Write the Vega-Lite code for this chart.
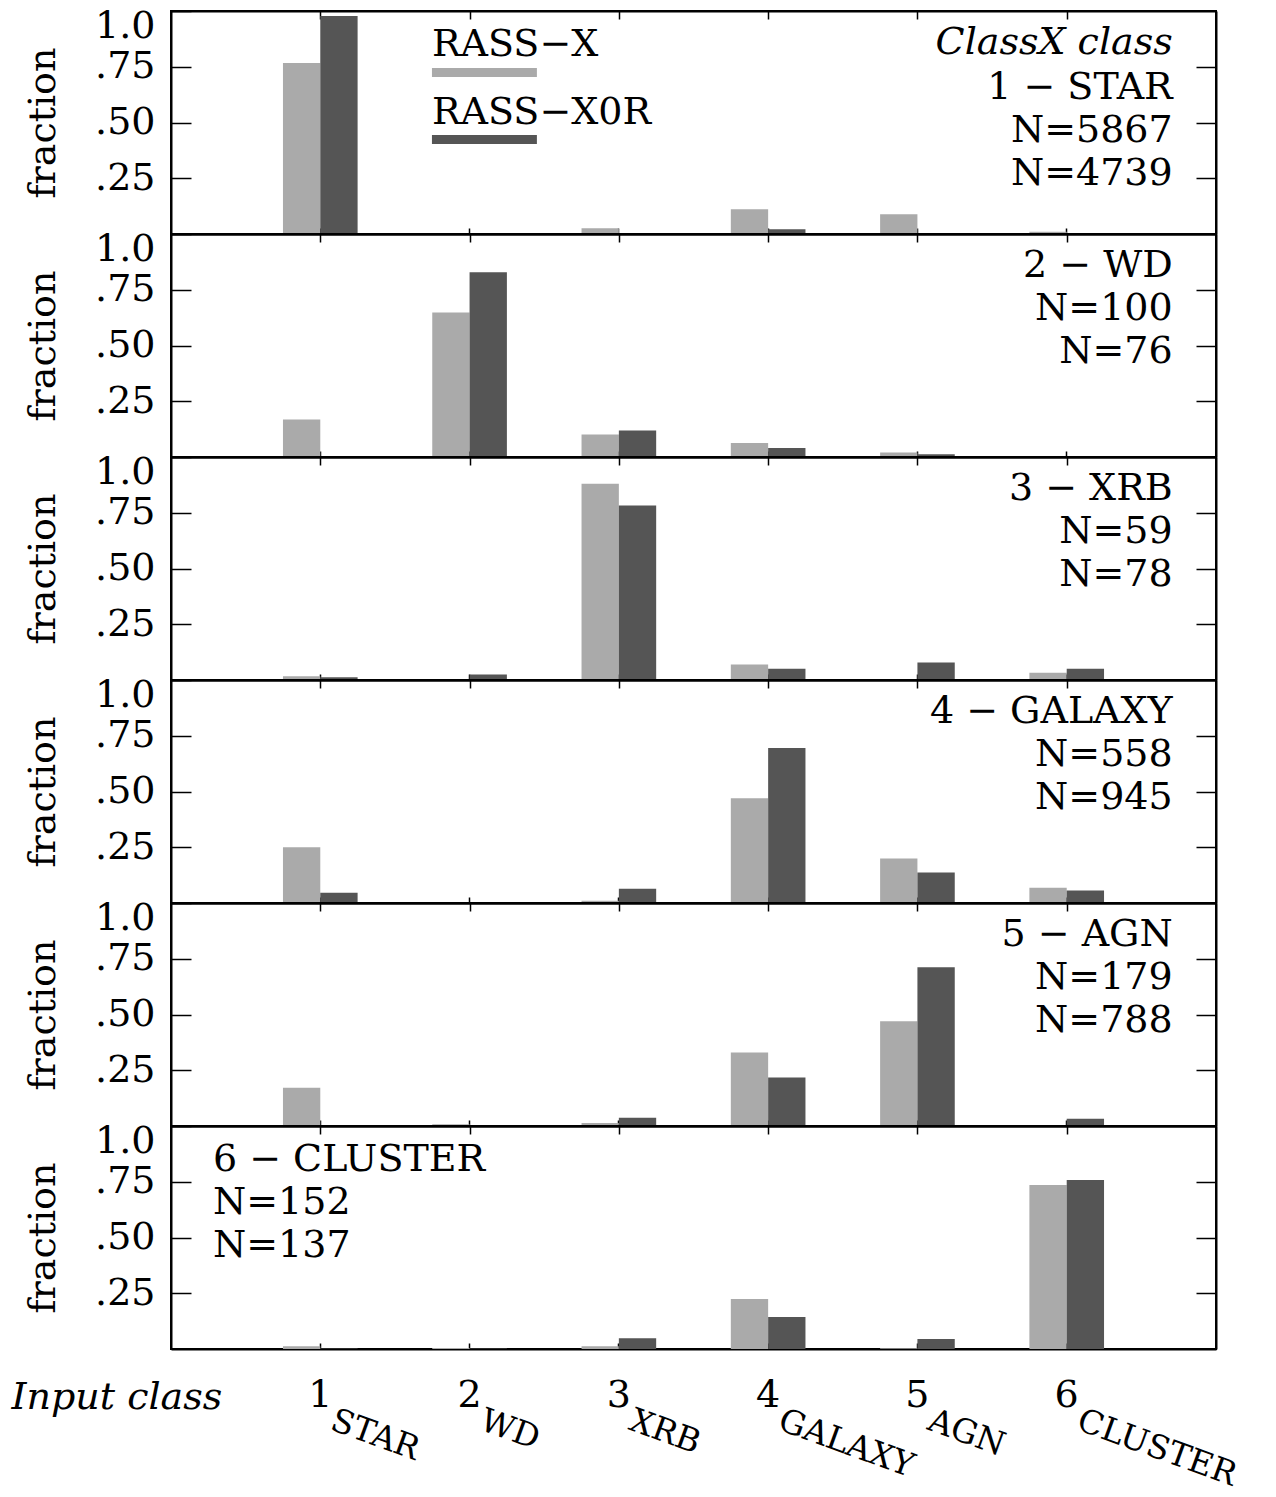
{
  "$schema": "https://vega.github.io/schema/vega-lite/v6.json",
  "padding": {"left": 10, "top": 6, "right": 5, "bottom": 0},
  "background": "white",
  "datasets": {
    "bars": [
      {"panel": 1, "input": 1, "series": "RASS−X", "fraction": 0.767},
      {"panel": 1, "input": 1, "series": "RASS−X0R", "fraction": 0.978},
      {"panel": 1, "input": 3, "series": "RASS−X", "fraction": 0.026},
      {"panel": 1, "input": 4, "series": "RASS−X", "fraction": 0.111},
      {"panel": 1, "input": 4, "series": "RASS−X0R", "fraction": 0.021},
      {"panel": 1, "input": 5, "series": "RASS−X", "fraction": 0.089},
      {"panel": 1, "input": 6, "series": "RASS−X", "fraction": 0.01},
      {"panel": 2, "input": 1, "series": "RASS−X", "fraction": 0.168},
      {"panel": 2, "input": 2, "series": "RASS−X", "fraction": 0.648},
      {"panel": 2, "input": 2, "series": "RASS−X0R", "fraction": 0.829},
      {"panel": 2, "input": 3, "series": "RASS−X", "fraction": 0.101},
      {"panel": 2, "input": 3, "series": "RASS−X0R", "fraction": 0.119},
      {"panel": 2, "input": 4, "series": "RASS−X", "fraction": 0.063},
      {"panel": 2, "input": 4, "series": "RASS−X0R", "fraction": 0.04},
      {"panel": 2, "input": 5, "series": "RASS−X", "fraction": 0.02},
      {"panel": 2, "input": 5, "series": "RASS−X0R", "fraction": 0.012},
      {"panel": 3, "input": 1, "series": "RASS−X", "fraction": 0.017},
      {"panel": 3, "input": 1, "series": "RASS−X0R", "fraction": 0.012},
      {"panel": 3, "input": 2, "series": "RASS−X0R", "fraction": 0.025},
      {"panel": 3, "input": 3, "series": "RASS−X", "fraction": 0.88},
      {"panel": 3, "input": 3, "series": "RASS−X0R", "fraction": 0.783},
      {"panel": 3, "input": 4, "series": "RASS−X", "fraction": 0.07},
      {"panel": 3, "input": 4, "series": "RASS−X0R", "fraction": 0.051},
      {"panel": 3, "input": 5, "series": "RASS−X0R", "fraction": 0.078},
      {"panel": 3, "input": 6, "series": "RASS−X", "fraction": 0.033},
      {"panel": 3, "input": 6, "series": "RASS−X0R", "fraction": 0.051},
      {"panel": 4, "input": 1, "series": "RASS−X", "fraction": 0.25},
      {"panel": 4, "input": 1, "series": "RASS−X0R", "fraction": 0.046},
      {"panel": 4, "input": 3, "series": "RASS−X", "fraction": 0.01},
      {"panel": 4, "input": 3, "series": "RASS−X0R", "fraction": 0.064},
      {"panel": 4, "input": 4, "series": "RASS−X", "fraction": 0.47},
      {"panel": 4, "input": 4, "series": "RASS−X0R", "fraction": 0.695},
      {"panel": 4, "input": 5, "series": "RASS−X", "fraction": 0.2},
      {"panel": 4, "input": 5, "series": "RASS−X0R", "fraction": 0.137},
      {"panel": 4, "input": 6, "series": "RASS−X", "fraction": 0.068},
      {"panel": 4, "input": 6, "series": "RASS−X0R", "fraction": 0.056},
      {"panel": 5, "input": 1, "series": "RASS−X", "fraction": 0.172},
      {"panel": 5, "input": 2, "series": "RASS−X", "fraction": 0.008},
      {"panel": 5, "input": 3, "series": "RASS−X", "fraction": 0.013},
      {"panel": 5, "input": 3, "series": "RASS−X0R", "fraction": 0.037},
      {"panel": 5, "input": 4, "series": "RASS−X", "fraction": 0.33},
      {"panel": 5, "input": 4, "series": "RASS−X0R", "fraction": 0.218},
      {"panel": 5, "input": 5, "series": "RASS−X", "fraction": 0.47},
      {"panel": 5, "input": 5, "series": "RASS−X0R", "fraction": 0.712},
      {"panel": 5, "input": 6, "series": "RASS−X0R", "fraction": 0.032},
      {"panel": 6, "input": 1, "series": "RASS−X", "fraction": 0.012},
      {"panel": 6, "input": 1, "series": "RASS−X0R", "fraction": 0.002},
      {"panel": 6, "input": 2, "series": "RASS−X", "fraction": 0.004},
      {"panel": 6, "input": 2, "series": "RASS−X0R", "fraction": 0.002},
      {"panel": 6, "input": 3, "series": "RASS−X", "fraction": 0.012},
      {"panel": 6, "input": 3, "series": "RASS−X0R", "fraction": 0.048},
      {"panel": 6, "input": 4, "series": "RASS−X", "fraction": 0.224},
      {"panel": 6, "input": 4, "series": "RASS−X0R", "fraction": 0.143},
      {"panel": 6, "input": 5, "series": "RASS−X", "fraction": 0.003},
      {"panel": 6, "input": 5, "series": "RASS−X0R", "fraction": 0.045},
      {"panel": 6, "input": 6, "series": "RASS−X", "fraction": 0.735},
      {"panel": 6, "input": 6, "series": "RASS−X0R", "fraction": 0.758}
    ],
    "notes": [
      {"panel": 1, "head": "ClassX class", "body": "1 − STAR\nN=5867\nN=4739"},
      {"panel": 2, "body": "2 − WD\nN=100\nN=76"},
      {"panel": 3, "body": "3 − XRB\nN=59\nN=78"},
      {"panel": 4, "body": "4 − GALAXY\nN=558\nN=945"},
      {"panel": 5, "body": "5 − AGN\nN=179\nN=788"},
      {"panel": 6, "body": "6 − CLUSTER\nN=152\nN=137"}
    ],
    "classes": [
      {"input": 1, "name": "STAR"},
      {"input": 2, "name": "WD"},
      {"input": 3, "name": "XRB"},
      {"input": 4, "name": "GALAXY"},
      {"input": 5, "name": "AGN"},
      {"input": 6, "name": "CLUSTER"}
    ],
    "legend": [
      {"series": "RASS−X"},
      {"series": "RASS−X0R"}
    ]
  },
  "spacing": 0,
  "bounds": "flush",
  "vconcat": [
    {
      "width": 1045, "height": 223,
      "layer": [
        {
          "data": {"name": "bars"},
          "transform": [{"filter": "datum.panel == 1"}],
          "mark": {"type": "bar"},
          "encoding": {
            "x": {"field": "input", "type": "ordinal", "scale": {"domain": [1, 2, 3, 4, 5, 6], "paddingInner": 0, "paddingOuter": 0.5}, "axis": {"orient": "bottom", "labels": false, "title": null, "tickSize": -6}},
            "xOffset": {"field": "series", "type": "nominal", "scale": {"domain": ["RASS−X", "RASS−X0R"], "paddingInner": 0, "paddingOuter": 1.87}},
            "y": {"field": "fraction", "type": "quantitative", "scale": {"domain": [0, 1], "nice": false}, "axis": {"orient": "left", "values": [0.25, 0.5, 0.75, 1], "labelExpr": "datum.value == 1 ? '1.0' : replace(format(datum.value, '.2f'), '0.', '.')", "labelBaseline": {"condition": {"test": "datum.value == 1", "value": "top"}, "value": "middle"}, "labelOffset": {"condition": {"test": "datum.value == 1", "value": -4}, "value": 0}, "labelOverlap": false, "labelBound": false, "tickSize": -20, "labelPadding": 36, "title": "fraction", "titlePadding": 32}},
            "color": {"field": "series", "type": "nominal", "scale": {"domain": ["RASS−X", "RASS−X0R"], "range": ["#aaaaaa", "#555555"]}, "legend": null}
          }
        },
        {
          "data": {"name": "notes"},
          "transform": [{"filter": "datum.panel == 1"}],
          "mark": {"type": "text", "align": "right", "baseline": "alphabetic", "lineBreak": "\n", "lineHeight": 43},
          "encoding": {
            "x": {"datum": 6.71, "type": "quantitative", "scale": {"domain": [0, 7], "nice": false, "zero": false}, "axis": {"orient": "top", "values": [1, 2, 3, 4, 5, 6], "labels": false, "title": null, "tickSize": -8}},
            "y": {"datum": 0.605, "type": "quantitative", "scale": {"domain": [0, 1], "nice": false}, "axis": {"orient": "right", "values": [0.25, 0.5, 0.75], "labels": false, "title": null, "tickSize": -20}},
            "text": {"field": "body", "type": "nominal"}
          }
        },
        {
          "data": {"name": "notes"},
          "transform": [{"filter": "datum.panel == 1"}],
          "mark": {"type": "text", "align": "right", "baseline": "alphabetic", "fontStyle": "italic"},
          "encoding": {
            "x": {"datum": 6.71, "type": "quantitative", "scale": {"domain": [0, 7], "nice": false, "zero": false}, "axis": null},
            "y": {"datum": 0.807, "type": "quantitative", "scale": {"domain": [0, 1], "nice": false}, "axis": null},
            "text": {"field": "head", "type": "nominal"}
          }
        },
        {
          "data": {"name": "legend"},
          "transform": [{"filter": "datum.series == 'RASS−X'"}],
          "mark": {"type": "rule", "strokeWidth": 9, "strokeCap": "butt"},
          "encoding": {
            "x": {"datum": 1.748, "type": "quantitative", "scale": {"domain": [0, 7], "nice": false, "zero": false}, "axis": null},
            "x2": {"datum": 2.451},
            "y": {"datum": 0.724, "type": "quantitative", "scale": {"domain": [0, 1], "nice": false}, "axis": null},
            "color": {"field": "series", "type": "nominal", "legend": null}
          }
        },
        {
          "data": {"name": "legend"},
          "transform": [{"filter": "datum.series == 'RASS−X0R'"}],
          "mark": {"type": "rule", "strokeWidth": 9, "strokeCap": "butt"},
          "encoding": {
            "x": {"datum": 1.748, "type": "quantitative", "scale": {"domain": [0, 7], "nice": false, "zero": false}, "axis": null},
            "x2": {"datum": 2.451},
            "y": {"datum": 0.424, "type": "quantitative", "scale": {"domain": [0, 1], "nice": false}, "axis": null},
            "color": {"field": "series", "type": "nominal", "legend": null}
          }
        },
        {
          "data": {"name": "legend"},
          "transform": [{"filter": "datum.series == 'RASS−X'"}],
          "mark": {"type": "text", "align": "left", "baseline": "alphabetic"},
          "encoding": {
            "x": {"datum": 1.748, "type": "quantitative", "scale": {"domain": [0, 7], "nice": false, "zero": false}, "axis": null},
            "y": {"datum": 0.798, "type": "quantitative", "scale": {"domain": [0, 1], "nice": false}, "axis": null},
            "text": {"field": "series", "type": "nominal"}
          }
        },
        {
          "data": {"name": "legend"},
          "transform": [{"filter": "datum.series == 'RASS−X0R'"}],
          "mark": {"type": "text", "align": "left", "baseline": "alphabetic"},
          "encoding": {
            "x": {"datum": 1.748, "type": "quantitative", "scale": {"domain": [0, 7], "nice": false, "zero": false}, "axis": null},
            "y": {"datum": 0.493, "type": "quantitative", "scale": {"domain": [0, 1], "nice": false}, "axis": null},
            "text": {"field": "series", "type": "nominal"}
          }
        }
      ],
      "resolve": {"scale": {"x": "independent"}, "axis": {"x": "independent", "y": "independent"}}
    },
    {
      "width": 1045, "height": 223,
      "layer": [
        {
          "data": {"name": "bars"},
          "transform": [{"filter": "datum.panel == 2"}],
          "mark": {"type": "bar"},
          "encoding": {
            "x": {"field": "input", "type": "ordinal", "scale": {"domain": [1, 2, 3, 4, 5, 6], "paddingInner": 0, "paddingOuter": 0.5}, "axis": {"orient": "bottom", "labels": false, "title": null, "tickSize": -6}},
            "xOffset": {"field": "series", "type": "nominal", "scale": {"domain": ["RASS−X", "RASS−X0R"], "paddingInner": 0, "paddingOuter": 1.87}},
            "y": {"field": "fraction", "type": "quantitative", "scale": {"domain": [0, 1], "nice": false}, "axis": {"orient": "left", "values": [0.25, 0.5, 0.75, 1], "labelExpr": "datum.value == 1 ? '1.0' : replace(format(datum.value, '.2f'), '0.', '.')", "labelBaseline": {"condition": {"test": "datum.value == 1", "value": "top"}, "value": "middle"}, "labelOffset": {"condition": {"test": "datum.value == 1", "value": -4}, "value": 0}, "labelOverlap": false, "labelBound": false, "tickSize": -20, "labelPadding": 36, "title": "fraction", "titlePadding": 32}},
            "color": {"field": "series", "type": "nominal", "scale": {"domain": ["RASS−X", "RASS−X0R"], "range": ["#aaaaaa", "#555555"]}, "legend": null}
          }
        },
        {
          "data": {"name": "notes"},
          "transform": [{"filter": "datum.panel == 2"}],
          "mark": {"type": "text", "align": "right", "baseline": "alphabetic", "lineBreak": "\n", "lineHeight": 43},
          "encoding": {
            "x": {"datum": 6.71, "type": "quantitative", "scale": {"domain": [0, 7], "nice": false, "zero": false}, "axis": {"orient": "top", "values": [1, 2, 3, 4, 5, 6], "labels": false, "title": null, "tickSize": -8}},
            "y": {"datum": 0.807, "type": "quantitative", "scale": {"domain": [0, 1], "nice": false}, "axis": {"orient": "right", "values": [0.25, 0.5, 0.75], "labels": false, "title": null, "tickSize": -20}},
            "text": {"field": "body", "type": "nominal"}
          }
        }
      ],
      "resolve": {"scale": {"x": "independent"}, "axis": {"x": "independent", "y": "independent"}}
    },
    {
      "width": 1045, "height": 223,
      "layer": [
        {
          "data": {"name": "bars"},
          "transform": [{"filter": "datum.panel == 3"}],
          "mark": {"type": "bar"},
          "encoding": {
            "x": {"field": "input", "type": "ordinal", "scale": {"domain": [1, 2, 3, 4, 5, 6], "paddingInner": 0, "paddingOuter": 0.5}, "axis": {"orient": "bottom", "labels": false, "title": null, "tickSize": -6}},
            "xOffset": {"field": "series", "type": "nominal", "scale": {"domain": ["RASS−X", "RASS−X0R"], "paddingInner": 0, "paddingOuter": 1.87}},
            "y": {"field": "fraction", "type": "quantitative", "scale": {"domain": [0, 1], "nice": false}, "axis": {"orient": "left", "values": [0.25, 0.5, 0.75, 1], "labelExpr": "datum.value == 1 ? '1.0' : replace(format(datum.value, '.2f'), '0.', '.')", "labelBaseline": {"condition": {"test": "datum.value == 1", "value": "top"}, "value": "middle"}, "labelOffset": {"condition": {"test": "datum.value == 1", "value": -4}, "value": 0}, "labelOverlap": false, "labelBound": false, "tickSize": -20, "labelPadding": 36, "title": "fraction", "titlePadding": 32}},
            "color": {"field": "series", "type": "nominal", "scale": {"domain": ["RASS−X", "RASS−X0R"], "range": ["#aaaaaa", "#555555"]}, "legend": null}
          }
        },
        {
          "data": {"name": "notes"},
          "transform": [{"filter": "datum.panel == 3"}],
          "mark": {"type": "text", "align": "right", "baseline": "alphabetic", "lineBreak": "\n", "lineHeight": 43},
          "encoding": {
            "x": {"datum": 6.71, "type": "quantitative", "scale": {"domain": [0, 7], "nice": false, "zero": false}, "axis": {"orient": "top", "values": [1, 2, 3, 4, 5, 6], "labels": false, "title": null, "tickSize": -8}},
            "y": {"datum": 0.807, "type": "quantitative", "scale": {"domain": [0, 1], "nice": false}, "axis": {"orient": "right", "values": [0.25, 0.5, 0.75], "labels": false, "title": null, "tickSize": -20}},
            "text": {"field": "body", "type": "nominal"}
          }
        }
      ],
      "resolve": {"scale": {"x": "independent"}, "axis": {"x": "independent", "y": "independent"}}
    },
    {
      "width": 1045, "height": 223,
      "layer": [
        {
          "data": {"name": "bars"},
          "transform": [{"filter": "datum.panel == 4"}],
          "mark": {"type": "bar"},
          "encoding": {
            "x": {"field": "input", "type": "ordinal", "scale": {"domain": [1, 2, 3, 4, 5, 6], "paddingInner": 0, "paddingOuter": 0.5}, "axis": {"orient": "bottom", "labels": false, "title": null, "tickSize": -6}},
            "xOffset": {"field": "series", "type": "nominal", "scale": {"domain": ["RASS−X", "RASS−X0R"], "paddingInner": 0, "paddingOuter": 1.87}},
            "y": {"field": "fraction", "type": "quantitative", "scale": {"domain": [0, 1], "nice": false}, "axis": {"orient": "left", "values": [0.25, 0.5, 0.75, 1], "labelExpr": "datum.value == 1 ? '1.0' : replace(format(datum.value, '.2f'), '0.', '.')", "labelBaseline": {"condition": {"test": "datum.value == 1", "value": "top"}, "value": "middle"}, "labelOffset": {"condition": {"test": "datum.value == 1", "value": -4}, "value": 0}, "labelOverlap": false, "labelBound": false, "tickSize": -20, "labelPadding": 36, "title": "fraction", "titlePadding": 32}},
            "color": {"field": "series", "type": "nominal", "scale": {"domain": ["RASS−X", "RASS−X0R"], "range": ["#aaaaaa", "#555555"]}, "legend": null}
          }
        },
        {
          "data": {"name": "notes"},
          "transform": [{"filter": "datum.panel == 4"}],
          "mark": {"type": "text", "align": "right", "baseline": "alphabetic", "lineBreak": "\n", "lineHeight": 43},
          "encoding": {
            "x": {"datum": 6.71, "type": "quantitative", "scale": {"domain": [0, 7], "nice": false, "zero": false}, "axis": {"orient": "top", "values": [1, 2, 3, 4, 5, 6], "labels": false, "title": null, "tickSize": -8}},
            "y": {"datum": 0.807, "type": "quantitative", "scale": {"domain": [0, 1], "nice": false}, "axis": {"orient": "right", "values": [0.25, 0.5, 0.75], "labels": false, "title": null, "tickSize": -20}},
            "text": {"field": "body", "type": "nominal"}
          }
        }
      ],
      "resolve": {"scale": {"x": "independent"}, "axis": {"x": "independent", "y": "independent"}}
    },
    {
      "width": 1045, "height": 223,
      "layer": [
        {
          "data": {"name": "bars"},
          "transform": [{"filter": "datum.panel == 5"}],
          "mark": {"type": "bar"},
          "encoding": {
            "x": {"field": "input", "type": "ordinal", "scale": {"domain": [1, 2, 3, 4, 5, 6], "paddingInner": 0, "paddingOuter": 0.5}, "axis": {"orient": "bottom", "labels": false, "title": null, "tickSize": -6}},
            "xOffset": {"field": "series", "type": "nominal", "scale": {"domain": ["RASS−X", "RASS−X0R"], "paddingInner": 0, "paddingOuter": 1.87}},
            "y": {"field": "fraction", "type": "quantitative", "scale": {"domain": [0, 1], "nice": false}, "axis": {"orient": "left", "values": [0.25, 0.5, 0.75, 1], "labelExpr": "datum.value == 1 ? '1.0' : replace(format(datum.value, '.2f'), '0.', '.')", "labelBaseline": {"condition": {"test": "datum.value == 1", "value": "top"}, "value": "middle"}, "labelOffset": {"condition": {"test": "datum.value == 1", "value": -4}, "value": 0}, "labelOverlap": false, "labelBound": false, "tickSize": -20, "labelPadding": 36, "title": "fraction", "titlePadding": 32}},
            "color": {"field": "series", "type": "nominal", "scale": {"domain": ["RASS−X", "RASS−X0R"], "range": ["#aaaaaa", "#555555"]}, "legend": null}
          }
        },
        {
          "data": {"name": "notes"},
          "transform": [{"filter": "datum.panel == 5"}],
          "mark": {"type": "text", "align": "right", "baseline": "alphabetic", "lineBreak": "\n", "lineHeight": 43},
          "encoding": {
            "x": {"datum": 6.71, "type": "quantitative", "scale": {"domain": [0, 7], "nice": false, "zero": false}, "axis": {"orient": "top", "values": [1, 2, 3, 4, 5, 6], "labels": false, "title": null, "tickSize": -8}},
            "y": {"datum": 0.807, "type": "quantitative", "scale": {"domain": [0, 1], "nice": false}, "axis": {"orient": "right", "values": [0.25, 0.5, 0.75], "labels": false, "title": null, "tickSize": -20}},
            "text": {"field": "body", "type": "nominal"}
          }
        }
      ],
      "resolve": {"scale": {"x": "independent"}, "axis": {"x": "independent", "y": "independent"}}
    },
    {
      "width": 1045, "height": 223,
      "layer": [
        {
          "data": {"name": "bars"},
          "transform": [{"filter": "datum.panel == 6"}],
          "mark": {"type": "bar"},
          "encoding": {
            "x": {"field": "input", "type": "ordinal", "scale": {"domain": [1, 2, 3, 4, 5, 6], "paddingInner": 0, "paddingOuter": 0.5}, "axis": {"orient": "bottom", "labels": true, "labelAngle": 0, "labelBaseline": "alphabetic", "labelPadding": 63, "tickSize": -6, "title": "Input class", "titleFontStyle": "italic", "titleX": -160, "titleY": 59, "titleAlign": "left", "titleBaseline": "alphabetic", "titleAngle": 0}},
            "xOffset": {"field": "series", "type": "nominal", "scale": {"domain": ["RASS−X", "RASS−X0R"], "paddingInner": 0, "paddingOuter": 1.87}},
            "y": {"field": "fraction", "type": "quantitative", "scale": {"domain": [0, 1], "nice": false}, "axis": {"orient": "left", "values": [0.25, 0.5, 0.75, 1], "labelExpr": "datum.value == 1 ? '1.0' : replace(format(datum.value, '.2f'), '0.', '.')", "labelBaseline": {"condition": {"test": "datum.value == 1", "value": "top"}, "value": "middle"}, "labelOffset": {"condition": {"test": "datum.value == 1", "value": -4}, "value": 0}, "labelOverlap": false, "labelBound": false, "tickSize": -20, "labelPadding": 36, "title": "fraction", "titlePadding": 32}},
            "color": {"field": "series", "type": "nominal", "scale": {"domain": ["RASS−X", "RASS−X0R"], "range": ["#aaaaaa", "#555555"]}, "legend": null}
          }
        },
        {
          "data": {"name": "notes"},
          "transform": [{"filter": "datum.panel == 6"}],
          "mark": {"type": "text", "align": "left", "baseline": "alphabetic", "lineBreak": "\n", "lineHeight": 43},
          "encoding": {
            "x": {"datum": 0.281, "type": "quantitative", "scale": {"domain": [0, 7], "nice": false, "zero": false}, "axis": {"orient": "top", "values": [1, 2, 3, 4, 5, 6], "labels": false, "title": null, "tickSize": -8}},
            "y": {"datum": 0.8, "type": "quantitative", "scale": {"domain": [0, 1], "nice": false}, "axis": {"orient": "right", "values": [0.25, 0.5, 0.75], "labels": false, "title": null, "tickSize": -20}},
            "text": {"field": "body", "type": "nominal"}
          }
        },
        {
          "data": {"name": "classes"},
          "mark": {"type": "text", "align": "left", "baseline": "alphabetic", "angle": 20, "dx": 9, "fontSize": 33},
          "encoding": {
            "x": {"field": "input", "type": "quantitative", "scale": {"domain": [0, 7], "nice": false, "zero": false}, "axis": null},
            "y": {"datum": -0.345, "type": "quantitative", "scale": {"domain": [0, 1], "nice": false}, "axis": null},
            "text": {"field": "name", "type": "nominal"}
          }
        }
      ],
      "resolve": {"scale": {"x": "independent"}, "axis": {"x": "independent", "y": "independent"}}
    }
  ],
  "config": {
    "font": "DejaVu Serif",
    "view": {"stroke": "black", "strokeWidth": 2},
    "axis": {
      "domainColor": "black", "domainWidth": 2, "tickColor": "black", "tickWidth": 1.5,
      "labelFont": "DejaVu Serif", "labelFontSize": 38, "labelColor": "black",
      "titleFont": "DejaVu Serif", "titleFontSize": 38, "titleFontWeight": "normal", "titleColor": "black",
      "grid": false
    },
    "text": {"font": "DejaVu Serif", "fontSize": 38, "color": "black"}
  }
}
